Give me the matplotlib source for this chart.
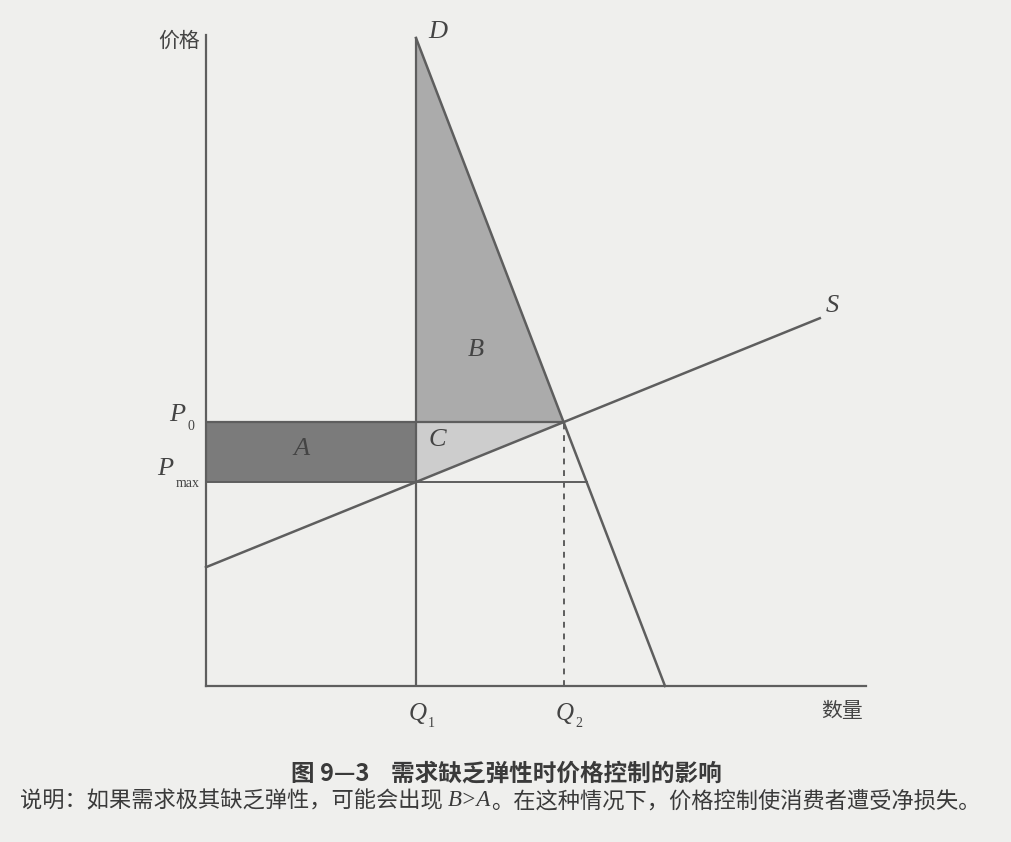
import numpy as np
import matplotlib
matplotlib.use('Agg')
import matplotlib.pyplot as plt

plt.rcParams['font.family'] = ['Noto Sans CJK SC', 'DejaVu Sans']

# curve end points (quantity, price)
demand_q = [3.5, 7.65]
demand_p = [10.8, 0.0]
supply_q = [0.0, 10.23]
supply_p = [1.98, 6.13]
q1 = 3.5  # quantity under price ceiling
x_max, y_max = 11.0, 10.85

title_text = '图 9—3    需求缺乏弹性时价格控制的影响'
note_parts = ['说明：如果需求极其缺乏弹性，可能会出现 ', 'B>A', '。在这种情况下，价格控制使消费者遭受净损失。']

bg = '#efefed'
line_c = '#5e5e5e'
txt_c = '#444444'

# lines as P = a + b*Q
sb = (supply_p[1] - supply_p[0]) / (supply_q[1] - supply_q[0])
sa = supply_p[0] - sb * supply_q[0]
db = (demand_p[1] - demand_p[0]) / (demand_q[1] - demand_q[0])
da = demand_p[0] - db * demand_q[0]
q2 = (da - sa) / (sb - db)
p0 = sa + sb * q2
pmax = sa + sb * q1
q_pmax_d = (pmax - da) / db

fig = plt.figure(figsize=(10.12, 8.42), dpi=100, facecolor=bg)
ax = fig.add_axes([206 / 1012, (842 - 686) / 842, 660 / 1012, 651 / 842])
ax.set_facecolor(bg)
ax.set_xlim(0, x_max)
ax.set_ylim(0, y_max)
for side in ['top', 'right']:
    ax.spines[side].set_visible(False)
for side in ['left', 'bottom']:
    ax.spines[side].set_color(line_c)
    ax.spines[side].set_linewidth(1.6)
ax.set_xticks([])
ax.set_yticks([])

# shaded areas
ax.fill([0, q1, q1, 0], [pmax, pmax, p0, p0], color='#7b7b7b', lw=0, zorder=1)   # A
ax.fill([q1, q1, q2], [demand_p[0], p0, p0], color='#ababab', lw=0, zorder=1)     # B
ax.fill([q1, q2, q1], [p0, p0, pmax], color='#cdcdcd', lw=0, zorder=1)           # C

# curves
ax.plot(demand_q, demand_p, color=line_c, lw=1.8, zorder=3, clip_on=False)
ax.plot(supply_q, supply_p, color=line_c, lw=1.8, zorder=3, clip_on=False)
ax.plot([q1, q1], [0, demand_p[0]], color=line_c, lw=1.6, zorder=3)
ax.plot([0, q2], [p0, p0], color=line_c, lw=1.6, zorder=3)
ax.plot([0, q_pmax_d], [pmax, pmax], color=line_c, lw=1.4, zorder=3)
ax.plot([q2, q2], [0, p0], color=line_c, lw=1.4, ls=(0, (3, 3)), zorder=3)

it = dict(fontsize=19, color=txt_c, family='Liberation Serif', style='italic')
sub = dict(fontsize=10, color=txt_c, family='Liberation Serif')
ax.text(demand_q[0] + 0.2, demand_p[0] + 0.1, 'D', ha='left', va='center', **it)
ax.text(supply_q[1] + 0.1, supply_p[1] + 0.2, 'S', ha='left', va='center', **it)
ax.text(4.5, 5.6, 'B', ha='center', va='center', **it)
ax.text(1.6, 3.95, 'A', ha='center', va='center', **it)
ax.text(3.85, 4.1, 'C', ha='center', va='center', **it)

# P0 / Pmax with small subscripts
ax.text(-0.34, p0 + 0.12, 'P', ha='right', va='center', **it)
ax.text(-0.31, p0 - 0.07, '0', ha='left', va='center', **sub)
ax.text(-0.55, pmax + 0.22, 'P', ha='right', va='center', **it)
ax.text(-0.5, pmax - 0.02, 'max', ha='left', va='center', **sub)

# Q1 / Q2
qit = dict(it, fontsize=18)
for q, s in [(q1, '1'), (q2, '2')]:
    ax.text(q + 0.02, -0.47, 'Q', ha='center', va='center', **qit)
    ax.text(q + 0.2, -0.62, s, ha='left', va='center', **sub)

ax.text(-0.45, y_max - 0.1, '价格', ha='center', va='center', fontsize=15, color=txt_c)
ax.text(10.6, -0.42, '数量', ha='center', va='center', fontsize=15, color=txt_c)

fig.text(0.5, 1 - 773 / 842, title_text, ha='center', va='center', fontsize=17,
         fontweight='bold', color='#3a3a3a')

# note line, pieces placed one after another
renderer = fig.canvas.get_renderer()
x0 = 20 / 1012
y0 = 1 - 801 / 842
styles = [dict(fontsize=16), dict(fontsize=16.5, family='Liberation Serif', style='italic'),
          dict(fontsize=16)]
for part, st in zip(note_parts, styles):
    t = fig.text(x0, y0, part, ha='left', va='center', color='#3a3a3a', **st)
    bb = t.get_window_extent(renderer=renderer)
    x0 = bb.x1 / fig.bbox.width

fig.savefig('out.png', dpi=100, facecolor=bg)
